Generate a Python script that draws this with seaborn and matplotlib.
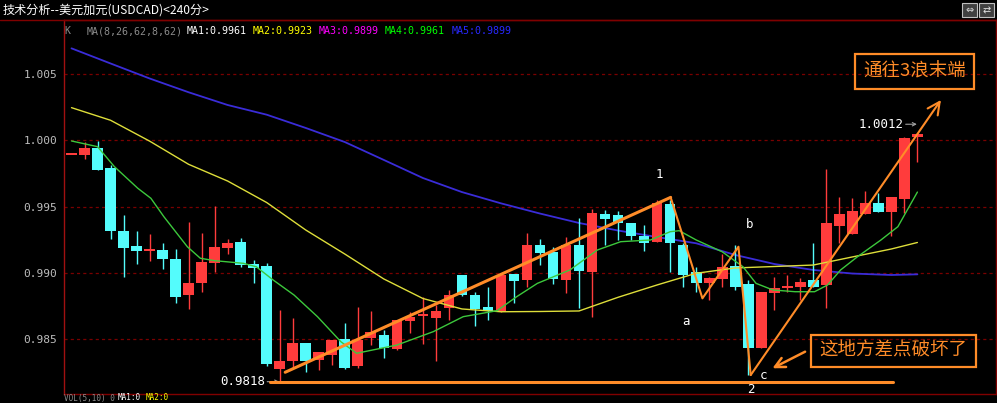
import matplotlib.pyplot as plt
import matplotlib.patches as mpatches
import matplotlib.lines as mlines
import seaborn as sns
import pandas as pd

# 240-minute USDCAD candles
opens = [0.99890, 0.99891, 0.99942, 0.99791, 0.99319, 0.99203, 0.99168, 0.99173, 0.99106, 0.98836,
         0.98927, 0.99073, 0.99191, 0.99234, 0.99066, 0.99055, 0.98277, 0.98337, 0.98470, 0.98344,
         0.98382, 0.98500, 0.98301, 0.98512, 0.98533, 0.98427, 0.98641, 0.98676, 0.98663, 0.98734,
         0.98985, 0.98832, 0.98742, 0.98708, 0.98992, 0.98947, 0.99211, 0.99160, 0.98947, 0.99211,
         0.99010, 0.99445, 0.99437, 0.99375, 0.99279, 0.99236, 0.99520, 0.99211, 0.99005, 0.98922,
         0.98955, 0.99053, 0.98917, 0.98432, 0.98852, 0.98885, 0.98897, 0.98947, 0.98910, 0.99354,
         0.99294, 0.99445, 0.99525, 0.99462, 0.99558, 1.00027]
highs = [0.99890, 0.99989, 0.99995, 0.99814, 0.99437, 0.99319, 0.99294, 0.99224, 0.99181, 0.99387,
         0.99299, 0.99505, 0.99254, 0.99266, 0.99098, 0.99073, 0.98721, 0.98659, 0.98470, 0.98407,
         0.98495, 0.98621, 0.98746, 0.98716, 0.98570, 0.98646, 0.98708, 0.98817, 0.98759, 0.98872,
         0.98985, 0.98859, 0.98897, 0.98985, 0.98992, 0.99304, 0.99256, 0.99194, 0.99274, 0.99417,
         0.99482, 0.99475, 0.99469, 0.99379, 0.99362, 0.99550, 0.99550, 0.99224, 0.99047, 0.98972,
         0.99143, 0.99211, 0.98947, 0.98859, 0.98968, 0.98985, 0.98960, 0.99228, 0.99781, 0.99575,
         0.99563, 0.99620, 0.99601, 0.99570, 1.00027, 1.00057]
lows = [0.99890, 0.99861, 0.99778, 0.99254, 0.98972, 0.99068, 0.99093, 0.99032, 0.98776, 0.98731,
        0.98857, 0.99010, 0.99141, 0.99047, 0.98922, 0.98301, 0.98181, 0.98286, 0.98256, 0.98269,
        0.98307, 0.98274, 0.98282, 0.98457, 0.98362, 0.98420, 0.98546, 0.98465, 0.98339, 0.98646,
        0.98827, 0.98601, 0.98646, 0.98708, 0.98776, 0.98897, 0.99060, 0.98917, 0.98852, 0.98734,
        0.98671, 0.99211, 0.99249, 0.99249, 0.99168, 0.99236, 0.99010, 0.98892, 0.98859, 0.98797,
        0.98892, 0.98872, 0.98231, 0.98432, 0.98721, 0.98859, 0.98797, 0.98897, 0.98734, 0.99224,
        0.99294, 0.99445, 0.99462, 0.99279, 0.99450, 0.99839]
closes = [0.99893, 0.99942, 0.99778, 0.99319, 0.99191, 0.99168, 0.99183, 0.99108, 0.98821, 0.98922,
          0.99083, 0.99198, 0.99228, 0.99060, 0.99040, 0.98312, 0.98337, 0.98470, 0.98337, 0.98402,
          0.98495, 0.98286, 0.98495, 0.98553, 0.98437, 0.98646, 0.98671, 0.98680, 0.98714, 0.98832,
          0.98834, 0.98731, 0.98714, 0.98985, 0.98942, 0.99211, 0.99153, 0.98953, 0.99211, 0.99015,
          0.99454, 0.99405, 0.99375, 0.99281, 0.99228, 0.99530, 0.99224, 0.98985, 0.98922, 0.98965,
          0.99043, 0.98897, 0.98437, 0.98859, 0.98885, 0.98902, 0.98934, 0.98897, 0.99379, 0.99442,
          0.99467, 0.99525, 0.99462, 0.99570, 1.00017, 1.00045]

# moving averages (candle index, value)
ma8_idx = [0, 2, 3.3, 5.1, 6.1, 7.1, 8.9, 9.9, 11, 13.2, 14.2, 15.5, 17.1, 18.9, 20.7, 21.9, 25,
           27.8, 30.1, 32.7, 34.2, 35.8, 38.3, 40.4, 42.2, 44.5, 46, 46.7, 48, 50, 51.6, 52.6,
           53.9, 55.6, 57.1, 58.1, 59.1, 60.4, 62.2, 63.5, 65]
ma8_val = [0.99995, 0.99952, 0.99801, 0.99638, 0.99563, 0.99424, 0.99198, 0.99111, 0.99093,
           0.99073, 0.99047, 0.98947, 0.98834, 0.98671, 0.98482, 0.98395, 0.98457, 0.98558,
           0.98671, 0.98716, 0.98821, 0.98922, 0.99023, 0.99173, 0.99236, 0.99249, 0.99311,
           0.99319, 0.99249, 0.99160, 0.99047, 0.98922, 0.98872, 0.98859, 0.98859, 0.98910,
           0.99023, 0.99123, 0.99249, 0.99349, 0.99610]
ma_idx = [0, 3, 6, 9, 12, 15, 18, 21, 24, 27, 30, 33, 36, 39, 42, 45, 48, 51, 54, 57, 60, 63, 65]
ma26_val = [1.00246, 1.00151, 0.99994, 0.99819, 0.99693, 0.99531, 0.99324, 0.99143, 0.98955,
            0.98808, 0.98729, 0.98708, 0.98710, 0.98714, 0.98817, 0.98910, 0.98998, 0.99038,
            0.99049, 0.99060, 0.99121, 0.99181, 0.99230]
ma62_val = [1.00693, 1.00579, 1.00466, 1.00362, 1.00266, 1.00193, 1.00093, 0.99987, 0.99852,
            0.99716, 0.99610, 0.99525, 0.99448, 0.99377, 0.99320, 0.99271, 0.99224, 0.99136,
            0.99068, 0.99023, 0.98996, 0.98985, 0.98990]

yticks = [0.985, 0.990, 0.995, 1.000, 1.005]
header_names = ["MA1", "MA2", "MA3", "MA4", "MA5"]
header_values = ["0.9961", "0.9923", "0.9899", "0.9961", "0.9899"]
header_colors = ["white", "#ffff00", "#ff00ff", "#00ff00", "#2828ff"]

# wave drawing (candle index, price)
wave_idx = [46.04, 48.48, 51.25, 52.19]
wave_val = [0.99570, 0.98809, 0.99198, 0.98231]

RED = "#ff3c3c"
CYAN = "#54fcfc"
ORANGE = "#ff8c28"
GRID = "#7a0000"
BORDER = "#a01010"

sns.set_theme(style="dark", rc={"axes.facecolor": "black", "figure.facecolor": "black"})
plt.rcParams['font.family'] = ['Noto Sans CJK SC', 'DejaVu Sans']
MONO = 'DejaVu Sans Mono'

fig = plt.figure(figsize=(9.97, 4.03), dpi=100)
ax = fig.add_axes([64 / 997, 9 / 403, 932 / 997, 374 / 403])

df = pd.DataFrame({"o": opens, "h": highs, "l": lows, "c": closes})
df["x"] = range(len(df))
df["up"] = df["c"] >= df["o"]
colors = [RED if u else CYAN for u in df["up"]]

# wicks and bodies
ax.vlines(df["x"], df["l"], df["h"], colors=colors, lw=1, zorder=3)
body = (df["c"] - df["o"]).abs().clip(lower=0.00012)
ax.bar(df["x"], body, bottom=df[["o", "c"]].min(axis=1), width=0.82,
       color=colors, linewidth=0, zorder=4)

# moving averages
sns.lineplot(x=ma_idx, y=ma62_val, ax=ax, color="#3a2cd8", lw=1.3, estimator=None, sort=False, zorder=2)
sns.lineplot(x=ma_idx, y=ma26_val, ax=ax, color="#dede3a", lw=1.0, estimator=None, sort=False, zorder=5)
sns.lineplot(x=ma8_idx, y=ma8_val, ax=ax, color="#3cc83c", lw=1.0, estimator=None, sort=False, zorder=5)

# orange markup
ax.plot([15.27, 63.1], [0.98176, 0.98176], color=ORANGE, lw=2.2, zorder=6)
ax.plot([16.42, wave_idx[0]], [0.98252, wave_val[0]], color=ORANGE, lw=2.2, zorder=6)
ax.plot(wave_idx, wave_val, color=ORANGE, lw=1.5, zorder=6)
ax.annotate("", xy=(66.81, 1.00304), xytext=(wave_idx[-1], wave_val[-1]),
            arrowprops=dict(arrowstyle="->", color=ORANGE, lw=1.5, mutation_scale=22,
                            shrinkA=0, shrinkB=0), zorder=6)
ax.annotate("", xy=(53.86, 0.98282), xytext=(56.37, 0.98407),
            arrowprops=dict(arrowstyle="->", color=ORANGE, lw=1.8, mutation_scale=18,
                            shrinkA=0, shrinkB=0), zorder=6)
ax.add_patch(mpatches.Rectangle((60.19, 1.00386), 9.16, 0.00264, fill=False,
                                ec=ORANGE, lw=1.6, zorder=6))
ax.text(64.77, 1.00518, "通往3浪末端", color=ORANGE, fontsize=13.3, ha="center", va="center", zorder=7)
ax.add_patch(mpatches.Rectangle((56.81, 0.98294), 12.69, 0.00239, fill=False,
                                ec=ORANGE, lw=1.6, zorder=6))
ax.text(63.15, 0.98414, "这地方差点破坏了", color=ORANGE, fontsize=13.3, ha="center", va="center", zorder=7)

# wave labels
for lab, xi, yv in [("1", 45.2, 0.99739), ("a", 47.2, 0.98638), ("b", 52.1, 0.99369),
                    ("c", 53.17, 0.98224), ("2", 52.19, 0.98124)]:
    ax.text(xi, yv, lab, color="white", fontsize=9, family=MONO, ha="center", va="center", zorder=7)

# extreme price labels
ax.text(14.88, 0.98181, "0.9818", color="white", fontsize=9, family=MONO, ha="right", va="center", zorder=7)
ax.annotate("", xy=(15.96, 0.98181), xytext=(15.04, 0.98181),
            arrowprops=dict(arrowstyle="->", color="#a0a0a0", lw=0.8, mutation_scale=6,
                            shrinkA=0, shrinkB=0))
ax.text(63.93, 1.00118, "1.0012", color="white", fontsize=9, family=MONO, ha="right", va="center", zorder=7)
ax.annotate("", xy=(64.96, 1.00121), xytext=(64.1, 1.00121),
            arrowprops=dict(arrowstyle="->", color="#a0a0a0", lw=0.8, mutation_scale=6,
                            shrinkA=0, shrinkB=0))

# axes styling
ax.set_xlim(-0.577, 71.04)
ax.set_ylim(0.980882, 1.009066)
ax.set_xticks([])
ax.set_yticks(yticks)
ax.set_yticklabels([f"{v:.3f}" for v in yticks], family=MONO, fontsize=8)
ax.tick_params(axis="y", colors="#bdbdbd", length=0, pad=5)
ax.grid(False)
for v in yticks:
    ax.axhline(v, color=GRID, lw=0.9, ls=(0, (2.5, 2.5)), zorder=1)
for side in ["left", "top", "bottom", "right"]:
    ax.spines[side].set_color(BORDER if side == "left" else "#800000")
    ax.spines[side].set_linewidth(1.0)
ax.set_xlabel("")
ax.set_ylabel("")

# title bar
fig.add_artist(mlines.Line2D([0, 1], [383 / 403, 383 / 403], color="#800000", lw=1.0))
fig.text(3 / 997, 393 / 403, "技术分析--美元加元(USDCAD)<240分>", color="white", fontsize=8.7, va="center")
for bx, sym in [(962, "⇔"), (979, "⇄")]:
    fig.add_artist(mpatches.Rectangle((bx / 997, 386 / 403), 15 / 997, 14 / 403, fc="#404040",
                                      ec="#c0c0c0", lw=0.8, transform=fig.transFigure))
    fig.text((bx + 7.5) / 997, 393 / 403, sym, color="#e0e0e0", fontsize=7, family="DejaVu Sans",
             ha="center", va="center")

# indicator header row
hy = 372 / 403
fig.text(64 / 997, hy, "K", color="#8c8c8c", fontsize=7.2, family=MONO, va="center")
fig.text(87 / 997, hy, "MA(8,26,62,8,62)", color="#8c8c8c", fontsize=7.2, family=MONO, va="center")
hx = [187, 253, 319, 385, 452]
for x0, n, v, c in zip(hx, header_names, header_values, header_colors):
    fig.text(x0 / 997, hy, f"{n}:{v}", color=c, fontsize=7.2, family=MONO, va="center")

# volume pane header, squeezed under the price pane
fig.text(64 / 997, 0.5 / 403, "VOL(5,10) 0", color="#8c8c8c", fontsize=5.5, family=MONO, va="bottom")
fig.text(118 / 997, 0.5 / 403, "MA1:0", color="white", fontsize=5.5, family=MONO, va="bottom")
fig.text(146 / 997, 0.5 / 403, "MA2:0", color="#ffff00", fontsize=5.5, family=MONO, va="bottom")

fig.savefig("out.png", dpi=100, facecolor="black")
